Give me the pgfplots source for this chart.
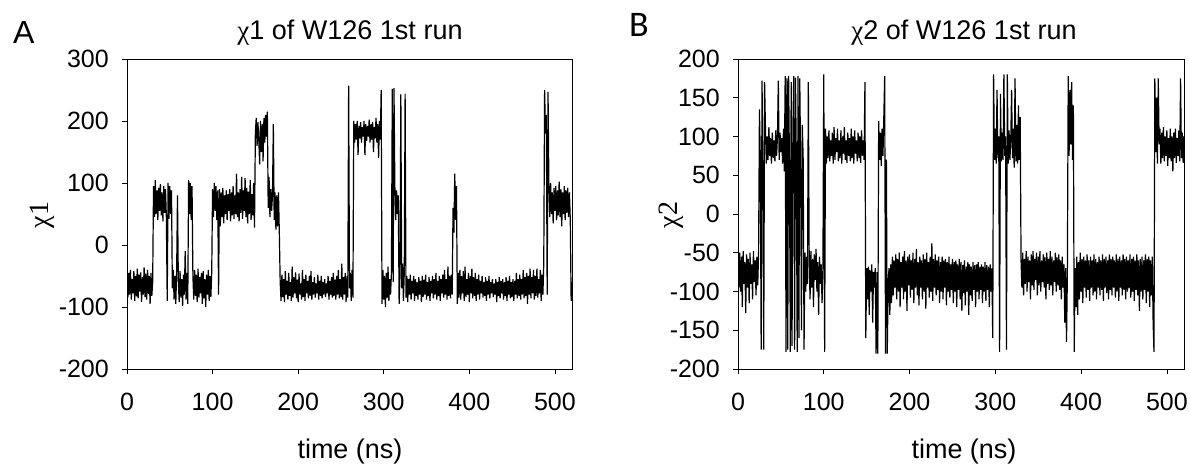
\documentclass[border=0pt]{standalone}
\usepackage{pgfplots}
\pgfplotsset{compat=1.18}
\usepackage{fontspec}
\setmainfont{Liberation Sans}
\newfontfamily\serifchi{Liberation Serif}
\newfontfamily\carlito{Carlito}
\newcommand{\ticksize}{\fontsize{25}{25}\selectfont}
\pgfplotsset{
  chiaxis/.style={
    scale only axis,
    anchor=south west,
    height=310pt,
    xmin=0, xmax=520,
    xtick={0,100,200,300,400,500},
    xticklabels={0,100,200,300,400,500},
    tick align=outside,
    xtick pos=bottom, ytick pos=left,
    major tick length=5pt,
    tick style={line width=0.7pt, black},
    axis line style={line width=0.7pt},
    ticklabel style={font=\ticksize, inner sep=0pt},
    xticklabel style={yshift=-19pt},
    yticklabel style={xshift=-13pt},
    clip=true,
  }
}
\begin{document}
\begin{tikzpicture}
\path[use as bounding box] (0pt,0pt) rectangle (1190pt,469pt);
% ---------------- Panel A ----------------
\begin{axis}[chiaxis, at={(127pt,100pt)}, width=445pt,
  ymin=-200, ymax=300,
  ytick={-200,-100,0,100,200,300},
  yticklabels={-200,-100,0,100,200,300}]
\addplot[black, line width=1.2pt, line join=bevel] coordinates {
(0,-50)(1,-85)(2,-45)(3,-80)(4,-40)(5,-88)(6,-55)(7,-78)(8,-42)(9,-90)
(10,-50)(11,-83)(12,-38)(13,-86)(14,-48)(15,-75)(16,-44)(17,-92)(18,-52)(19,-80)
(20,-36)(21,-84)(22,-46)(23,-88)(24,-40)(25,-79)(26,-50)(27,-95)(28,-45)(29,-82)
(30,-60)(31,95)(32,45)(33,105)(34,50)(35,88)(36,40)(37,92)(38,55)(39,98)
(40,48)(41,85)(42,38)(43,95)(44,52)(45,90)(46,45)(47,-90)(48,100)(49,42)
(50,95)(51,50)(52,88)(53,-70)(54,-40)(55,-88)(56,-50)(57,-95)(58,-45)(59,80)
(60,-60)(61,-92)(62,-42)(63,-85)(64,-55)(65,-98)(66,-48)(67,-80)(68,-10)(69,-88)
(70,-45)(71,-95)(72,105)(73,50)(74,100)(75,40)(76,95)(77,-50)(78,-88)(79,-40)
(80,-82)(81,-48)(82,-92)(83,-38)(84,-85)(85,-52)(86,-78)(87,-45)(88,-95)(89,-42)
(90,-86)(91,-55)(92,-100)(93,-48)(94,-80)(95,-40)(96,-90)(97,-50)(98,-84)(99,-44)
(100,90)(101,45)(102,100)(103,55)(104,95)(105,40)(106,88)(107,-80)(108,90)(109,30)
(110,85)(111,45)(112,92)(113,35)(114,80)(115,50)(116,88)(117,40)(118,82)(119,55)
(120,90)(121,38)(122,85)(123,48)(124,95)(125,42)(126,80)(127,50)(128,115)(129,45)
(130,85)(131,38)(132,90)(133,52)(134,110)(135,42)(136,88)(137,55)(138,108)(139,45)
(140,92)(141,35)(142,86)(143,50)(144,105)(145,40)(146,82)(147,48)(148,100)(149,28)
(150,180)(151,205)(152,160)(153,198)(154,170)(155,130)(156,200)(157,150)(158,195)(159,135)
(160,205)(161,165)(162,210)(163,175)(164,215)(165,60)(166,110)(167,45)(168,90)(169,55)
(170,80)(171,195)(172,40)(173,85)(174,25)(175,80)(176,30)(177,85)(178,20)(179,-60)
(180,-90)(181,-48)(182,-84)(183,-55)(184,-92)(185,-42)(186,-80)(187,-58)(188,-88)(189,-45)
(190,-82)(191,-60)(192,-90)(193,-35)(194,-85)(195,-52)(196,-78)(197,-44)(198,-86)(199,-56)
(200,-92)(201,-46)(202,-80)(203,-62)(204,-88)(205,-40)(206,-84)(207,-55)(208,-90)(209,-48)
(210,-78)(211,-58)(212,-86)(213,-50)(214,-82)(215,-42)(216,-88)(217,-60)(218,-80)(219,-52)
(220,-85)(221,-62)(222,-78)(223,-48)(224,-88)(225,-58)(226,-82)(227,-50)(228,-86)(229,-60)
(230,-80)(231,-55)(232,-84)(233,-62)(234,-78)(235,-50)(236,-88)(237,-58)(238,-80)(239,-52)
(240,-85)(241,-45)(242,-82)(243,-56)(244,-88)(245,-50)(246,-80)(247,-40)(248,-86)(249,-55)
(250,-84)(251,-30)(252,-88)(253,-52)(254,-80)(255,-45)(256,-92)(257,-50)(258,-85)(259,257)
(260,-70)(261,-45)(262,-90)(263,-40)(264,-85)(265,200)(266,165)(267,195)(268,170)(269,200)
(270,145)(271,192)(272,172)(273,198)(274,165)(275,190)(276,175)(277,200)(278,145)(279,195)
(280,168)(281,192)(282,175)(283,202)(284,165)(285,195)(286,170)(287,198)(288,150)(289,190)
(290,172)(291,205)(292,165)(293,195)(294,140)(295,200)(296,170)(297,250)(298,-95)(299,-40)
(300,-88)(301,-50)(302,-100)(303,-45)(304,-85)(305,-35)(306,-90)(307,-55)(308,-80)(309,-45)
(310,252)(311,-60)(312,253)(313,95)(314,40)(315,88)(316,50)(317,80)(318,-95)(319,-50)
(320,243)(321,-70)(322,-30)(323,-90)(324,-45)(325,244)(326,-85)(327,-50)(328,-92)(329,-55)
(330,-80)(331,-48)(332,-88)(333,-58)(334,-78)(335,-50)(336,-90)(337,-55)(338,-82)(339,-60)
(340,-88)(341,-52)(342,-80)(343,-58)(344,-92)(345,-50)(346,-84)(347,-56)(348,-80)(349,-48)
(350,-88)(351,-60)(352,-82)(353,-52)(354,-90)(355,-58)(356,-78)(357,-50)(358,-86)(359,-55)
(360,-80)(361,-45)(362,-88)(363,-58)(364,-82)(365,-50)(366,-90)(367,-55)(368,-78)(369,-48)
(370,-85)(371,-40)(372,-80)(373,-55)(374,-88)(375,-35)(376,-82)(377,-50)(378,-86)(379,-48)
(380,-80)(381,60)(382,20)(383,115)(384,40)(385,95)(386,-95)(387,-45)(388,-85)(389,-40)
(390,-88)(391,-50)(392,-78)(393,-42)(394,-90)(395,-35)(396,-84)(397,-55)(398,-80)(399,-45)
(400,-92)(401,-50)(402,-78)(403,-38)(404,-86)(405,-52)(406,-82)(407,-45)(408,-90)(409,-55)
(410,-80)(411,-48)(412,-88)(413,-58)(414,-78)(415,-50)(416,-85)(417,-60)(418,-82)(419,-52)
(420,-90)(421,-58)(422,-80)(423,-50)(424,-86)(425,-60)(426,-78)(427,-55)(428,-84)(429,-62)
(430,-80)(431,-55)(432,-92)(433,-60)(434,-82)(435,-52)(436,-86)(437,-58)(438,-78)(439,-55)
(440,-88)(441,-60)(442,-82)(443,-52)(444,-90)(445,-58)(446,-80)(447,-50)(448,-86)(449,-60)
(450,-84)(451,-55)(452,-90)(453,-58)(454,-80)(455,-45)(456,-86)(457,-55)(458,-82)(459,-48)
(460,-88)(461,-55)(462,-80)(463,-40)(464,-86)(465,-52)(466,-82)(467,-45)(468,-95)(469,-50)
(470,-80)(471,-38)(472,-86)(473,-52)(474,-78)(475,-40)(476,-88)(477,-50)(478,-82)(479,-38)
(480,-85)(481,-55)(482,-78)(483,-40)(484,-90)(485,-48)(486,-80)(487,-30)(488,250)(489,180)
(490,210)(491,-80)(492,247)(493,95)(494,45)(495,100)(496,50)(497,85)(498,35)(499,92)
(500,55)(501,95)(502,40)(503,88)(504,48)(505,102)(506,45)(507,90)(508,30)(509,85)
(510,50)(511,95)(512,40)(513,88)(514,52)(515,92)(516,45)(517,85)(518,40)(519,-90)
(520,-60)
};
\end{axis}
% ---------------- Panel B ----------------
\begin{axis}[chiaxis, at={(738pt,100pt)}, width=446pt,
  ymin=-200, ymax=200,
  ytick={-200,-150,-100,-50,0,50,100,150,200},
  yticklabels={-200,-150,-100,-50,0,50,100,150,200}]
\addplot[black, line width=1.2pt, line join=bevel] coordinates {
(0,-60)(1,-95)(2,-50)(3,-100)(4,-55)(5,-120)(6,-48)(7,-90)(8,-62)(9,-128)
(10,-52)(11,-95)(12,-58)(13,-115)(14,-50)(15,-90)(16,-65)(17,-110)(18,-48)(19,-88)
(20,-60)(21,-105)(22,-55)(23,-92)(24,-50)(25,135)(26,70)(27,-175)(28,172)(29,65)
(30,-175)(31,170)(32,110)(33,65)(34,100)(35,70)(36,112)(37,75)(38,98)(39,65)
(40,105)(41,72)(42,95)(43,68)(44,108)(45,75)(46,100)(47,172)(48,70)(49,105)
(50,80)(51,98)(52,65)(53,110)(54,55)(55,178)(56,-178)(57,175)(58,-175)(59,178)
(60,60)(61,-178)(62,170)(63,-170)(64,110)(65,178)(66,-175)(67,176)(68,70)(69,-178)
(70,178)(71,-160)(72,175)(73,65)(74,-150)(75,115)(76,70)(77,-175)(78,-50)(79,-100)
(80,-55)(81,-90)(82,170)(83,-60)(84,-110)(85,-48)(86,-95)(87,-58)(88,-120)(89,-52)
(90,-85)(91,-45)(92,-100)(93,-62)(94,-130)(95,-55)(96,-90)(97,-65)(98,-115)(99,-70)
(100,180)(101,-178)(102,110)(103,65)(104,100)(105,72)(106,108)(107,68)(108,95)(109,75)
(110,105)(111,65)(112,112)(113,70)(114,98)(115,80)(116,110)(117,68)(118,95)(119,72)
(120,108)(121,65)(122,100)(123,78)(124,112)(125,70)(126,95)(127,66)(128,105)(129,75)
(130,98)(131,68)(132,110)(133,72)(134,100)(135,65)(136,108)(137,78)(138,95)(139,68)
(140,105)(141,72)(142,100)(143,66)(144,108)(145,75)(146,95)(147,70)(148,170)(149,-160)
(150,-70)(151,-110)(152,-68)(153,-130)(154,-72)(155,-100)(156,-65)(157,-140)(158,-75)(159,-95)
(160,-70)(161,-180)(162,-75)(163,-180)(164,120)(165,70)(166,105)(167,62)(168,110)(169,75)
(170,125)(171,178)(172,-180)(173,70)(174,-180)(175,-100)(176,-70)(177,-130)(178,-65)(179,-115)
(180,-55)(181,-105)(182,-60)(183,-95)(184,-52)(185,-110)(186,-58)(187,-100)(188,-50)(189,-120)
(190,-62)(191,-95)(192,-55)(193,-110)(194,-48)(195,-100)(196,-60)(197,-125)(198,-55)(199,-92)
(200,-52)(201,-108)(202,-60)(203,-98)(204,-50)(205,-115)(206,-58)(207,-95)(208,-45)(209,-105)
(210,-62)(211,-118)(212,-55)(213,-95)(214,-60)(215,-110)(216,-52)(217,-100)(218,-58)(219,-122)
(220,-50)(221,-95)(222,-62)(223,-108)(224,-55)(225,-100)(226,-38)(227,-112)(228,-58)(229,-95)
(230,-52)(231,-105)(232,-60)(233,-98)(234,-55)(235,-115)(236,-62)(237,-100)(238,-55)(239,-110)
(240,-60)(241,-95)(242,-58)(243,-118)(244,-62)(245,-100)(246,-55)(247,-108)(248,-65)(249,-98)
(250,-58)(251,-115)(252,-62)(253,-100)(254,-60)(255,-120)(256,-65)(257,-98)(258,-58)(259,-110)
(260,-62)(261,-125)(262,-66)(263,-102)(264,-60)(265,-118)(266,-68)(267,-100)(268,-62)(269,-130)
(270,-65)(271,-105)(272,-68)(273,-112)(274,-62)(275,-98)(276,-66)(277,-120)(278,-65)(279,-100)
(280,-62)(281,-110)(282,-68)(283,-98)(284,-65)(285,-115)(286,-68)(287,-100)(288,-62)(289,-112)
(290,-66)(291,-98)(292,-68)(293,-120)(294,-65)(295,-100)(296,-70)(297,-160)(298,180)(299,70)
(300,110)(301,65)(302,160)(303,72)(304,100)(305,-178)(306,155)(307,68)(308,105)(309,70)
(310,180)(311,75)(312,100)(313,-175)(314,180)(315,65)(316,108)(317,70)(318,95)(319,160)
(320,72)(321,110)(322,60)(323,175)(324,68)(325,115)(326,65)(327,140)(328,70)(329,125)
(330,-60)(331,-95)(332,-50)(333,-105)(334,-58)(335,-90)(336,-48)(337,-100)(338,-55)(339,-88)
(340,-60)(341,-110)(342,-52)(343,-92)(344,-48)(345,-98)(346,-58)(347,-85)(348,-50)(349,-105)
(350,-55)(351,-92)(352,-48)(353,-100)(354,-60)(355,-88)(356,-52)(357,-95)(358,-56)(359,-110)
(360,-50)(361,-90)(362,-58)(363,-98)(364,-48)(365,-92)(366,-55)(367,-105)(368,-60)(369,-88)
(370,-50)(371,-100)(372,-56)(373,-92)(374,-52)(375,-98)(376,-60)(377,-110)(378,-55)(379,-95)
(380,-65)(381,-140)(382,-70)(383,-165)(384,-80)(385,178)(386,75)(387,160)(388,90)(389,170)
(390,70)(391,140)(392,-178)(393,-70)(394,-120)(395,-55)(396,-130)(397,-62)(398,-110)(399,-50)
(400,-100)(401,-58)(402,-115)(403,-55)(404,-95)(405,-60)(406,-108)(407,-52)(408,-98)(409,-60)
(410,-112)(411,-55)(412,-95)(413,-60)(414,-105)(415,-52)(416,-100)(417,-58)(418,-110)(419,-62)
(420,-95)(421,-55)(422,-105)(423,-60)(424,-98)(425,-52)(426,-112)(427,-58)(428,-95)(429,-55)
(430,-102)(431,-60)(432,-110)(433,-52)(434,-98)(435,-58)(436,-105)(437,-55)(438,-95)(439,-60)
(440,-108)(441,-52)(442,-100)(443,-58)(444,-112)(445,-55)(446,-95)(447,-60)(448,-105)(449,-52)
(450,-98)(451,-58)(452,-110)(453,-55)(454,-100)(455,-60)(456,-96)(457,-52)(458,-108)(459,-58)
(460,-100)(461,-55)(462,-112)(463,-60)(464,-98)(465,-52)(466,-105)(467,-60)(468,-125)(469,-58)
(470,-100)(471,-55)(472,-110)(473,-60)(474,-98)(475,-52)(476,-115)(477,-58)(478,-100)(479,-55)
(480,-120)(481,-60)(482,-105)(483,-55)(484,-140)(485,-178)(486,175)(487,80)(488,150)(489,65)
(490,175)(491,90)(492,110)(493,65)(494,105)(495,72)(496,112)(497,68)(498,100)(499,75)
(500,108)(501,62)(502,98)(503,72)(504,110)(505,68)(506,100)(507,55)(508,105)(509,72)
(510,110)(511,66)(512,98)(513,75)(514,108)(515,68)(516,175)(517,72)(518,105)(519,66)
(520,100)
};
\end{axis}
% ---------------- Text ----------------
\node[anchor=base west, inner sep=0pt, font=\fontsize{32}{32}\selectfont] at (13pt,425pt) {A};
\node[anchor=base west, inner sep=0pt, font=\carlito\fontsize{36}{36}\selectfont] at (629pt,432pt) {B};
\node[anchor=base, inner sep=0pt, font=\fontsize{27}{27}\selectfont] at (350pt,429pt) {{\serifchi χ}1 of W126 1st run};
\node[anchor=base, inner sep=0pt, font=\fontsize{27}{27}\selectfont] at (964pt,429pt) {{\serifchi χ}2 of W126 1st run};
\node[anchor=base, inner sep=0pt, font=\fontsize{27}{27}\selectfont] at (350pt,11pt) {time (ns)};
\node[anchor=base, inner sep=0pt, font=\fontsize{27}{27}\selectfont] at (964pt,11pt) {time (ns)};
\node[rotate=90, inner sep=0pt, font=\serifchi\fontsize{28}{28}\selectfont] at (42pt,254pt) {χ1};
\node[rotate=90, inner sep=0pt, font=\serifchi\fontsize{28}{28}\selectfont] at (671pt,254pt) {χ2};
\end{tikzpicture}
\end{document}
